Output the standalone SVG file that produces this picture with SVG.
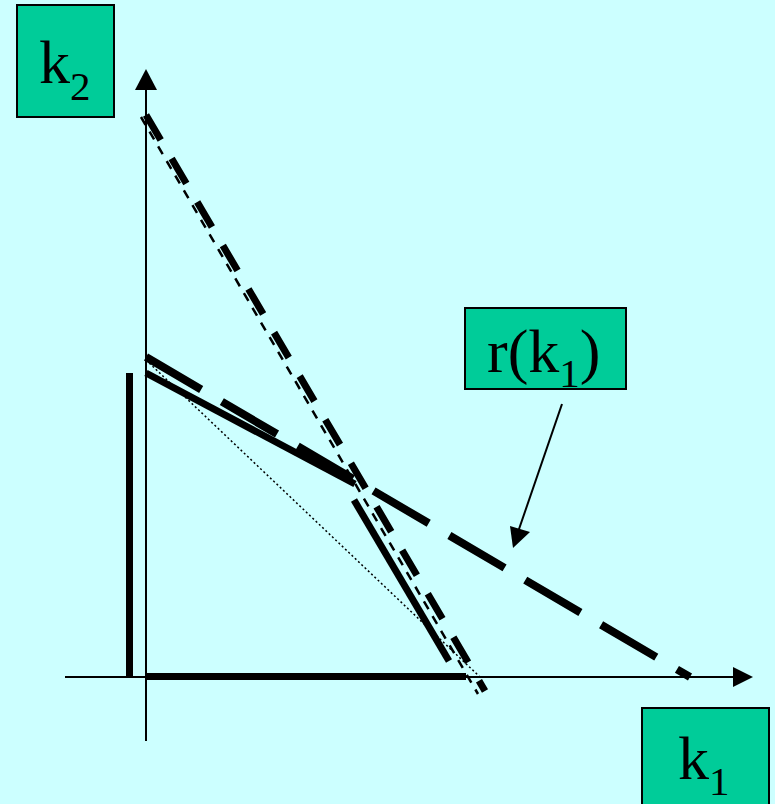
<svg xmlns="http://www.w3.org/2000/svg" width="775" height="804" viewBox="0 0 775 804">
<defs>
<style>
.box{fill:#00CC99;stroke:#000;stroke-width:2}
.lbl{font-family:"Liberation Serif","Times New Roman",serif;font-size:62px;fill:#000}
.ax{stroke:#000;stroke-width:2;fill:none}
.thick{stroke:#000;stroke-width:7;fill:none}
</style>
</defs>
<rect x="0" y="0" width="775" height="804" fill="#CCFFFF"/>
<g id="connectors">
<!-- axes -->
<line class="ax" x1="146" y1="88" x2="146" y2="741"/>
<polygon points="146,69 135,90 157,90" fill="#000"/>
<line class="ax" x1="65" y1="677" x2="735" y2="677"/>
<polygon points="753,677 733,667 733,687" fill="#000"/>
<!-- vertical thick bar -->
<line class="thick" x1="129.5" y1="373" x2="129.5" y2="677"/>
<!-- horizontal thick bar -->
<line class="thick" x1="146" y1="676.5" x2="466" y2="676.5"/>
<!-- solid lines -->
<line class="thick" x1="146" y1="373" x2="355" y2="484"/>
<line class="thick" x1="354" y1="500" x2="449" y2="661"/>
<!-- long dash line r(k1) -->
<line stroke="#000" stroke-width="8" stroke-dasharray="64 24" x1="146" y1="357" x2="690" y2="677"/>
<!-- steep thick dashed -->
<line stroke="#000" stroke-width="7" stroke-dasharray="29 21.5" x1="146" y1="115" x2="485" y2="691"/>
<!-- steep thin dashed -->
<line stroke="#000" stroke-width="2.5" stroke-dasharray="9 8" x1="141" y1="117" x2="478" y2="694"/>
<!-- dotted -->
<line stroke="#000" stroke-width="1.5" stroke-dasharray="2 2.5" x1="146" y1="360" x2="480" y2="677"/>
<!-- pointer arrow -->
<line class="ax" x1="562" y1="404" x2="518" y2="532"/>
<polygon points="513,548 510,526 530,532" fill="#000"/>
</g>
<g id="node-k2">
<rect class="box" x="17" y="5" width="97" height="112"/>
<text class="lbl" x="39" y="83">k<tspan font-size="41" dy="17">2</tspan></text>
</g>
<g id="node-rk1">
<rect class="box" x="465" y="308" width="161" height="81"/>
<text class="lbl" x="487" y="372">r(k<tspan font-size="41" dy="15">1</tspan><tspan dy="-15">)</tspan></text>
</g>
<g id="node-k1">
<rect class="box" x="642" y="708" width="127" height="110"/>
<text class="lbl" x="678" y="779">k<tspan font-size="41" dy="16">1</tspan></text>
</g>
</svg>
